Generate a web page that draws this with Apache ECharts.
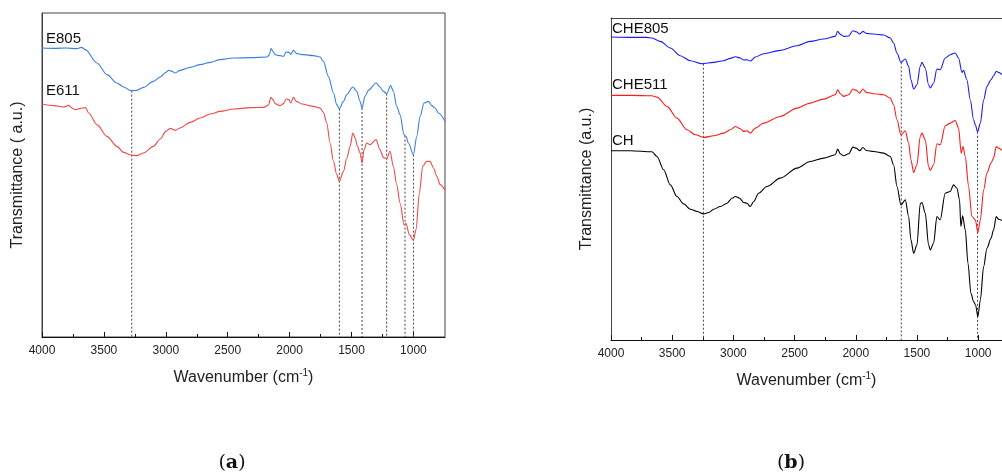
<!DOCTYPE html>
<html>
<head>
<meta charset="utf-8">
<script src="https://cdn.jsdelivr.net/npm/echarts@6/dist/echarts.min.js"></script>
<style>
html,body{margin:0;padding:0;background:#fff;}
#chart{width:1002px;height:474px;}
</style>
</head>
<body>
<div id="chart"></div>
<script>
// ---------- Panel (a) ----------
const e805Wn = [4000,3900,3800,3720,3680,3650,3556,3475,3395,3341,3282,3233,3180,3100,3045,3000,2978,2950,2924,2884,2803,2722,2641,2561,2453,2318,2184,2162,2151,2135,2117,2077,2050,2028,2006,1990,1969,1942,1888,1807,1754,1727,1687,1646,1619,1598,1565,1538,1490,1458,1431,1415,1391,1364,1302,1270,1243,1216,1184,1162,1135,1108,1076,1060,1041,1000,973,946,914,879,852,825,798,745];
const e805T = [86.7,86.6,86.7,86.5,86.9,86.2,82.2,78.7,76.2,75.0,73.9,74.0,74.9,76.7,78.0,79.4,80.0,79.7,79.2,80.0,80.9,81.7,82.4,83.2,83.7,83.8,84.0,84.7,86.6,85.7,84.7,84.4,84.2,85.5,85.4,84.8,86.0,85.0,84.7,84.4,84.0,82.7,78.2,73.2,69.7,68.5,70.7,72.7,75.0,73.7,70.7,68.7,72.2,74.0,76.2,75.0,73.7,73.0,75.4,73.7,69.2,66.7,60.7,60.2,58.2,54.7,60.2,66.2,70.2,70.7,69.4,68.7,67.2,64.7];
const e611Wn = [4000,3906,3825,3785,3758,3731,3690,3650,3623,3556,3475,3395,3341,3282,3233,3180,3100,3045,3000,2965,2924,2884,2803,2722,2641,2561,2453,2318,2211,2170,2151,2135,2117,2077,2050,2028,2006,1990,1969,1947,1901,1807,1754,1727,1700,1673,1646,1619,1598,1565,1538,1511,1490,1471,1452,1431,1415,1399,1377,1350,1302,1270,1243,1216,1189,1162,1135,1108,1076,1060,1033,1000,979,952,925,892,865,838,811,784,745];
const e611T = [69.9,69.4,69.0,69.5,68.7,68.2,68.6,68.8,67.2,63.7,60.2,57.2,55.4,54.6,54.4,55.2,57.2,59.4,61.7,62.6,62.0,62.7,64.4,65.7,66.9,67.7,68.4,68.8,68.9,69.6,71.9,71.2,70.0,69.4,70.0,71.4,71.2,70.2,71.9,70.7,69.9,69.2,68.7,67.4,64.2,58.2,52.7,48.7,46.7,49.7,53.7,57.2,61.2,59.7,57.2,55.2,52.2,56.2,58.2,57.7,59.2,56.2,53.9,53.4,55.7,51.2,45.7,40.2,33.7,34.0,30.7,29.0,32.2,43.2,51.2,52.7,52.7,50.7,48.2,45.7,44.0];
const aDropWn = [3275,1598,1415,1216,1068,1000];
const aDropTop = [73.9,68.5,68.7,73.0,60.4,54.7];

// ---------- Panel (b) ----------
const che805Wn = [4000,3842,3706,3665,3597,3515,3434,3352,3257,3161,3080,3025,2984,2943,2916,2889,2862,2821,2753,2617,2480,2372,2263,2167,2148,2126,2099,2058,2023,1996,1968,1941,1914,1854,1772,1718,1691,1663,1631,1595,1568,1549,1527,1500,1473,1459,1432,1405,1391,1364,1337,1310,1269,1228,1187,1160,1132,1119,1092,1064,1037,1023,1004,982,955,928,895,874,852,833,806];
const che805T = [90.8,90.7,90.7,90.5,89.5,87.5,85.2,83.7,82.8,83.2,83.7,84.4,84.9,84.5,83.9,84.0,83.6,84.8,85.8,86.8,88.2,89.5,90.2,91.0,92.5,91.6,91.0,91.1,92.7,92.4,91.7,92.5,91.9,91.7,91.4,90.5,89.0,86.0,83.2,84.2,82.0,78.0,75.2,76.5,82.0,83.2,81.5,76.5,75.5,77.0,81.2,81.0,84.5,85.5,86.0,84.5,80.2,80.8,78.0,72.0,66.0,64.5,62.4,65.0,72.0,76.0,78.0,79.2,80.5,80.2,79.5];
const che511Wn = [4000,3842,3665,3624,3542,3461,3379,3311,3243,3161,3080,3025,2984,2943,2916,2889,2862,2821,2753,2617,2480,2372,2263,2167,2148,2126,2099,2058,2023,1996,1968,1941,1914,1854,1772,1718,1691,1663,1631,1595,1568,1549,1527,1500,1473,1459,1432,1405,1391,1364,1337,1310,1269,1228,1187,1160,1138,1124,1105,1078,1051,1023,1002,982,955,928,895,874,852,833,806];
const che511T = [73.3,73.3,73.2,72.8,70.0,66.5,63.0,61.5,60.7,61.2,62.0,63.0,64.0,63.3,62.5,62.7,62.0,63.5,65.0,67.0,69.5,71.0,72.2,73.5,75.0,73.8,73.0,73.5,75.2,74.8,74.0,75.2,74.2,73.8,73.5,72.5,70.5,66.0,61.5,62.7,59.0,54.0,50.2,52.5,61.0,62.0,60.0,52.0,50.8,52.5,58.8,58.5,64.2,65.0,65.8,63.5,56.0,58.0,55.0,46.0,37.0,36.0,32.2,36.0,45.0,50.0,53.0,54.5,58.0,57.5,56.8];
const chWn = [4000,3842,3665,3624,3570,3515,3461,3406,3352,3297,3243,3202,3161,3107,3052,3011,2984,2949,2916,2889,2862,2834,2794,2726,2617,2480,2372,2263,2167,2148,2126,2099,2058,2023,1996,1968,1941,1914,1854,1772,1718,1691,1663,1631,1595,1568,1549,1527,1500,1473,1459,1432,1405,1391,1364,1337,1310,1269,1228,1201,1173,1152,1141,1127,1105,1083,1059,1037,1021,1002,982,955,928,895,874,852,833,806];
const chT = [56.7,56.7,56.4,55.0,51.0,46.5,43.0,40.8,39.2,38.5,37.8,38.2,39.2,40.0,41.0,42.5,43.0,42.5,41.2,41.0,40.0,41.5,44.0,46.0,48.5,51.5,53.5,54.5,55.5,57.2,55.8,55.2,55.8,57.8,57.5,56.7,57.7,56.8,56.5,56.0,55.0,52.5,46.0,40.5,42.0,37.0,30.0,26.0,28.5,40.8,41.2,38.0,28.5,27.0,29.0,37.0,36.0,44.0,44.5,46.5,45.5,42.0,34.0,37.2,33.0,23.0,14.0,11.5,10.5,7.0,12.0,22.0,27.5,30.5,33.0,37.0,36.2,35.8];
const bDropWn = [3245,1628,1005];
const bDropTop = [82.8,83.2,62.4];

// ---------- Axis ticks and labels ----------
const majorTicks = [4000,3500,3000,2500,2000,1500,1000];
const minorTicks = [3750,3250,2750,2250,1750,1250];
const aNames = ['E805','E611'];
const bNames = ['CHE805','CHE511','CH'];
const xTitle = '{n|Wavenumber (cm}{s|-1}{n|)}';
const yTitleA = 'Transmittance ( a.u.)';
const yTitleB = 'Transmittance (a.u.)';
const panelTags = ['a','b'];

const FONT = '"Liberation Sans", Arial, sans-serif';
const SERIF = '"DejaVu Serif", "Liberation Serif", serif';
const pairs = (w, t) => w.map((x, i) => [x, t[i]]);

function majorAxis(grid, min) {
  return {
    type: 'value', gridIndex: grid, min: min, max: 4000, inverse: true, position: 'bottom',
    axisLine: {show: true, onZero: false, lineStyle: {color: '#111', width: 1}},
    axisTick: {show: true, inside: true, length: 5, customValues: majorTicks, lineStyle: {color: '#111'}},
    axisLabel: {show: true, customValues: majorTicks, color: '#222', fontSize: 12, margin: 8, fontFamily: FONT,
      formatter: v => String(v)},
    splitLine: {show: false},
    name: xTitle, nameLocation: 'middle', nameGap: 31,
    nameTextStyle: {rich: {
      n: {fontSize: 16, color: '#222', fontFamily: FONT, lineHeight: 20},
      s: {fontSize: 10, color: '#222', fontFamily: FONT, verticalAlign: 'top', lineHeight: 20}
    }}
  };
}
function minorAxis(grid, min) {
  return {
    type: 'value', gridIndex: grid, min: min, max: 4000, inverse: true, position: 'bottom',
    axisLine: {show: false, onZero: false},
    axisTick: {show: true, inside: true, length: 3, customValues: minorTicks, lineStyle: {color: '#111'}},
    axisLabel: {show: false},
    splitLine: {show: false}
  };
}
function topAxis(grid, min) {
  return {
    type: 'value', gridIndex: grid, min: min, max: 4000, inverse: true, position: 'top',
    axisLine: {show: true, onZero: false, lineStyle: {color: '#444', width: 1}},
    axisTick: {show: false}, axisLabel: {show: false}, splitLine: {show: false}
  };
}
function yAx(grid, max, title) {
  return {
    type: 'value', gridIndex: grid, min: 0, max: max,
    axisLine: {show: true, lineStyle: {color: '#444', width: 1}},
    axisTick: {show: false}, axisLabel: {show: false}, splitLine: {show: false},
    name: title, nameLocation: 'middle', nameGap: 16, nameRotate: 90,
    nameTextStyle: {fontSize: 16, color: '#222', fontFamily: FONT}
  };
}
function spectrum(name, xi, yi, data, color) {
  return {
    name: name, type: 'line', xAxisIndex: xi, yAxisIndex: yi, data: data,
    showSymbol: false, symbol: 'none', smooth: 0.3, smoothMonotone: 'x',
    lineStyle: {color: color, width: 1.1}, silent: true, z: 3
  };
}
function drops(xi, yi, wn, top) {
  return wn.map((w, i) => ({
    type: 'line', xAxisIndex: xi, yAxisIndex: yi, data: [[w, top[i]], [w, 0]],
    showSymbol: false, symbol: 'none', silent: true, z: 2,
    lineStyle: {color: '#444', width: 1, type: [2, 2]}
  }));
}
function label(text, x, y) {
  return {type: 'text', x: x, y: y, silent: true,
    style: {text: text, fill: '#111', font: '15px ' + FONT, verticalAlign: 'middle', align: 'left'}};
}
function tag(letter, x, y) {
  return {type: 'text', x: x, y: y, silent: true,
    style: {text: '{p|(}{b|' + letter + '}{p|)}', align: 'center', verticalAlign: 'middle',
      rich: {
        p: {fontSize: 19, fontFamily: SERIF, fill: '#111'},
        b: {fontSize: 19, fontWeight: 'bold', fontFamily: SERIF, fill: '#111'}
      }}};
}

const chart = echarts.init(document.getElementById('chart'), null, {renderer: 'canvas'});
chart.setOption({
  animation: false,
  backgroundColor: '#fff',
  textStyle: {fontFamily: FONT},
  grid: [
    {left: 42, top: 13, width: 403, height: 324, show: true, borderColor: '#444', borderWidth: 1, backgroundColor: 'transparent'},
    {left: 611, top: 18, width: 391, height: 322, show: false}
  ],
  xAxis: [majorAxis(0, 745), minorAxis(0, 745), majorAxis(1, 805), minorAxis(1, 805), topAxis(1, 805)],
  yAxis: [yAx(0, 97.2, yTitleA), yAx(1, 96.5, yTitleB)],
  series: [
    ...drops(0, 0, aDropWn, aDropTop),
    ...drops(2, 1, bDropWn, bDropTop),
    spectrum(aNames[0], 0, 0, pairs(e805Wn, e805T), '#3a7fe3'),
    spectrum(aNames[1], 0, 0, pairs(e611Wn, e611T), '#f04848'),
    spectrum(bNames[0], 2, 1, pairs(che805Wn, che805T), '#1a1aff'),
    spectrum(bNames[1], 2, 1, pairs(che511Wn, che511T), '#ff1a1a'),
    spectrum(bNames[2], 2, 1, pairs(chWn, chT), '#000000')
  ],
  graphic: [
    label(aNames[0], 46, 39),
    label(aNames[1], 46, 91),
    label(bNames[0], 612, 29),
    label(bNames[1], 612, 85),
    label(bNames[2], 612, 141),
    tag(panelTags[0], 232, 463),
    tag(panelTags[1], 791, 463)
  ]
});
</script>
</body>
</html>
